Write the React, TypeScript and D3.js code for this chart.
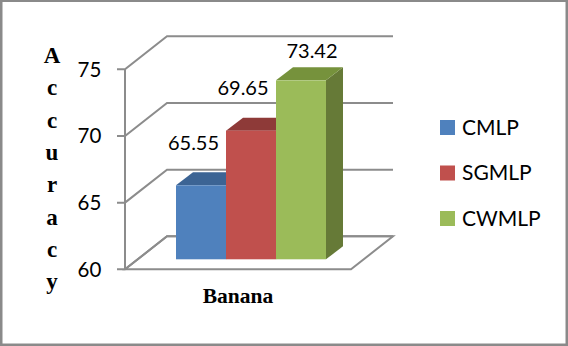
import * as d3 from "d3";

const categories = ["Banana"];
const seriesNames = ["CMLP", "SGMLP", "CWMLP"];
const seriesValues = [65.55, 69.65, 73.42];
const yTicks = [60, 65, 70, 75];
const yTitle = "Accuracy".split("");

const faceColors = ["#4F81BD", "#C0504D", "#9BBB59"];
const topColors = ["#3C6494", "#8E3A38", "#76923C"];
const sideColors = ["#335480", "#7A302E", "#667A37"];

const width = 568;
const height = 346;
const sansFont = "Lato, sans-serif";
const serifFont = "'Liberation Serif', serif";
const gridColor = "#8C8C8C";

// 3d projection of the chart box: wall depth, and where the bars sit in it
const wallDx = 42;
const wallDy = -33;
const barFrontDy = -10;
const barDx = 17;
const barDy = -13;

const y = d3.scaleLinear().domain([60, 75]).range([269.3, 69.3]);
const xFront = d3.scaleLinear().domain([0, 1]).range([125, 351]);
const xBars = d3.scaleBand().domain(seriesNames).range([176, 326]);
const legendY = d3.scalePoint().domain(seriesNames).range([127.5, 218.5]);

const poly = (pts: [number, number][]) => {
  const p = d3.path();
  pts.forEach((c, i) => (i ? p.lineTo(c[0], c[1]) : p.moveTo(c[0], c[1])));
  p.closePath();
  return p.toString();
};

const line = d3.line();

const labelOffsets = [
  { dx: -7.5, dy: -35 },
  { dx: -8, dy: -35.5 },
  { dx: 11, dy: -22.5 },
];

export default function App() {
  const x0 = xFront(0);
  const x1 = xFront(1);
  const base = y(60) + barFrontDy;
  return (
    <svg
      width={width}
      height={height}
      style={{ position: "absolute", left: 0, top: 0, background: "#fff" }}
    >
      <rect x={1.25} y={0.75} width={width - 2.5} height={height - 2} fill="#fff" stroke="#8A8A8A" strokeWidth={2.5} />

      {/* floor */}
      <path
        d={poly([
          [x0, y(60)],
          [x0 + wallDx, y(60) + wallDy],
          [x1 + wallDx, y(60) + wallDy],
          [x1, y(60)],
        ])}
        fill="#fff"
        stroke={gridColor}
        strokeWidth={2}
      />

      {/* walls */}
      {yTicks.map((t) => (
        <g key={t}>
          <path
            d={line([
              [x0 - 8, y(t)],
              [x0, y(t)],
              [x0 + wallDx, y(t) + wallDy],
              [x1 + wallDx, y(t) + wallDy],
            ]) as string}
            fill="none"
            stroke={gridColor}
            strokeWidth={2}
          />
          <text x={x0 - 47.5} y={y(t) + 7.5} fontFamily={sansFont} fontSize={20.5} fill="#000">
            {t}
          </text>
        </g>
      ))}
      <line x1={x0} x2={x0} y1={y(75)} y2={y(60)} stroke={gridColor} strokeWidth={2} />

      {/* bars */}
      {seriesNames.map((name, i) => {
        const left = xBars(name) as number;
        const right = left + xBars.bandwidth();
        const top = y(seriesValues[i]) + barFrontDy;
        return (
          <g key={name}>
            <path
              d={poly([
                [right, top],
                [right + barDx, top + barDy],
                [right + barDx, base + barDy],
                [right, base],
              ])}
              fill={sideColors[i]}
            />
            <path
              d={poly([
                [left, top],
                [left + barDx, top + barDy],
                [right + barDx, top + barDy],
                [right, top],
              ])}
              fill={topColors[i]}
            />
            <rect x={left} y={top} width={right - left} height={base - top} fill={faceColors[i]} />
          </g>
        );
      })}

      {seriesNames.map((name, i) => {
        const left = xBars(name) as number;
        const top = y(seriesValues[i]) + barFrontDy;
        return (
          <text
            key={name}
            x={left + xBars.bandwidth() / 2 + labelOffsets[i].dx}
            y={top + labelOffsets[i].dy}
            textAnchor="middle"
            fontFamily={sansFont}
            fontSize={20}
            fill="#000"
          >
            {seriesValues[i].toFixed(2)}
          </text>
        );
      })}

      <text
        x={238}
        y={303}
        textAnchor="middle"
        fontFamily={serifFont}
        fontWeight="bold"
        fontSize={21.5}
        fill="#000"
      >
        {categories[0]}
      </text>

      {yTitle.map((ch, i) => (
        <text
          key={i}
          x={52}
          y={63 + i * 32.3}
          textAnchor="middle"
          fontFamily={serifFont}
          fontWeight="bold"
          fontSize={23}
          fill="#000"
        >
          {ch}
        </text>
      ))}

      {/* legend */}
      {seriesNames.map((name, i) => {
        const cy = legendY(name) as number;
        return (
          <g key={name}>
            <rect x={440} y={cy - 7.5} width={15} height={15} fill={faceColors[i]} />
            <text x={462} y={cy + 7} fontFamily={sansFont} fontSize={21} fill="#000">
              {name}
            </text>
          </g>
        );
      })}
    </svg>
  );
}
